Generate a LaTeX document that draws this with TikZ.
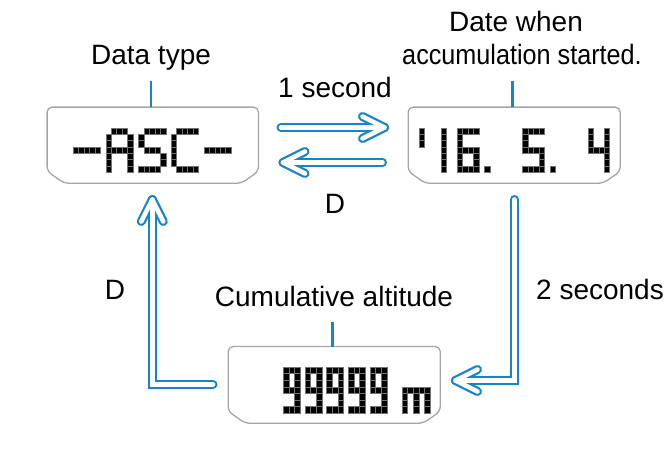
\documentclass[tikz,border=0pt]{standalone}
\usepackage{fontspec}
\usepackage{graphicx}
\setmainfont{Liberation Sans}
\usetikzlibrary{calc}
\definecolor{casioblue}{RGB}{22,132,200}
\definecolor{framegray}{RGB}{165,165,165}

\newcount\lcdc
\def\lcdparse#1{%
  \ifx#1\relax\else
    \ifx#11\filldraw[fill=black,draw=black!55,line width=0.3pt] ({\lcdx+\the\lcdc*\lcdw},{\lcdy+\lcdr*\lcdh}) rectangle ++({\lcdw},{\lcdh});\fi
    \advance\lcdc by 1\relax
    \expandafter\lcdparse
  \fi}
\newcommand\lcdglyph[5]{%
  \def\lcdx{#1}\def\lcdy{#2}\def\lcdw{#3}\def\lcdh{#4}%
  \foreach \lcdrowstr [count=\lcdr from 0] in {#5}{%
    \lcdc=0 \expandafter\lcdparse\lcdrowstr\relax}}
\newcommand\lcdframe[1]{%
  \draw[frame] ($(#1.south west)+(17,0)$) -- ($(#1.south west)+(0,-12)$)
    -- (#1.north west) -- (#1.north east) -- ($(#1.south east)+(0,-12)$)
    -- ($(#1.south east)+(-17,0)$) -- cycle;}
\newcommand\hollowarrow[2]{%
  \draw[arrowout,line join=miter] #1; \draw[arrowout] #2;
  \draw[arrowin,line join=miter] #1; \draw[arrowin] #2;}

\begin{document}
\begin{tikzpicture}[x=1pt,y=-1pt,
  lcdbox/.style={draw=none,inner sep=0pt,minimum height=75.7pt},
  frame/.style={draw=framegray,line width=1.3pt,rounded corners=5pt},
  tick/.style={draw=casioblue,line width=2.6pt},
  arrowout/.style={draw=casioblue,line width=9pt,line cap=round,line join=round},
  arrowin/.style={draw=white,line width=4.6pt,line cap=round,line join=round},
  lbl/.style={font=\fontsize{28}{30}\selectfont,anchor=base,inner sep=0pt}]
\useasboundingbox (0,0) rectangle (667,465);

% display boxes
\node[lcdbox,minimum width=211pt] (b1) at (152.8,145.2) {};
\node[lcdbox,minimum width=211.7pt] (b2) at (514.2,145.2) {};
\node[lcdbox,minimum width=211.7pt,minimum height=76.3pt] (b3) at (334.2,384.9) {};
\lcdframe{b1}
\lcdframe{b2}
\lcdframe{b3}

% ticks
\coordinate (t1) at ($(b1.north)+(-2,-26)$);
\coordinate (t2) at ($(b2.north)+(-1.5,-26)$);
\coordinate (t3) at ($(b3.north)+(-1.5,-25)$);
\draw[tick] (t1) -- (t1 |- b1.north);
\draw[tick] (t2) -- (t2 |- b2.north);
\draw[tick] (t3) -- (t3 |- b3.north);

% labels
\node[lbl] (l1) at (151,65) {Data type};
\node[lbl] (l2a) at (516,32) {Date when};
\node[lbl] (l2b) at (522,65) {\scalebox{0.9}[1]{accumulation started.}};
\node[lbl] (l3) at (334,306) {Cumulative altitude};
\node[lbl] (s1) at (335,98) {1 second};
\node[lbl] (d1) at (335,214) {D};
\node[lbl] (d2) at (115,300) {D};
\node[lbl] (s2) at (600,300) {2 seconds};

% LCD glyphs: box 1
\lcdglyph{73}{128}{5.45}{6.3}{00000,00000,00000,11111}
\lcdglyph{105.7}{128}{5.45}{6.3}{01110,10001,10001,11111,10001,10001,10001}
\lcdglyph{138.4}{128}{5.45}{6.3}{01111,10000,10000,01110,00001,00001,11110}
\lcdglyph{171.1}{128}{5.45}{6.3}{01111,10000,10000,10000,10000,10000,01111}
\lcdglyph{203.8}{128}{5.45}{6.3}{00000,00000,00000,11111}
% box 2
\lcdglyph{418.85}{128}{5.45}{6.3}{1,1,1}
\lcdglyph{440.65}{128}{5.45}{6.3}{1,1,1,1,1,1,1}
\lcdglyph{457.0}{128}{5.45}{6.3}{1111,1000,1000,1111,1001,1001,1111}
\lcdglyph{484.25}{128}{5.45}{6.3}{0,0,0,0,0,0,1}
\lcdglyph{522.4}{128}{5.45}{6.3}{1111,1000,1000,1111,0001,0001,1111}
\lcdglyph{549.65}{128}{5.45}{6.3}{0,0,0,0,0,0,1}
\lcdglyph{587.8}{128}{5.45}{6.3}{1001,1001,1001,1111,0001,0001,0001}
% box 3
\foreach \nx in {283,304.7,326.4,348.1,369.8}{
  \lcdglyph{\nx}{367}{5.7}{6.57}{111,101,101,111,001,001,111}}
\lcdglyph{402}{367}{5.6}{6.57}{00000,00000,00000,11111,10101,10101,10101}

% arrows
\coordinate (a1s) at (281,127.5);   \coordinate (a1e) at (384.5,127.5);
\coordinate (a2s) at (382.5,162.5); \coordinate (a2e) at (283,162.5);
\coordinate (a3s) at (213,384.3);   \coordinate (a3e) at (152.3,199.5);
\coordinate (a4s) at (514.3,199.5); \coordinate (a4e) at (455.5,380.5);
\hollowarrow{(a1s) -- (a1e)}{($(a1e)+(-22,-11)$) -- (a1e) -- ($(a1e)+(-22,11)$)}
\hollowarrow{(a2s) -- (a2e)}{($(a2e)+(22,-11)$) -- (a2e) -- ($(a2e)+(22,11)$)}
\hollowarrow{(a3s) -- (a3s -| a3e) -- (a3e)}{($(a3e)+(-11,22)$) -- (a3e) -- ($(a3e)+(11,22)$)}
\hollowarrow{(a4s) -- (a4s |- a4e) -- (a4e)}{($(a4e)+(22,-11)$) -- (a4e) -- ($(a4e)+(22,11)$)}
\end{tikzpicture}
\end{document}
